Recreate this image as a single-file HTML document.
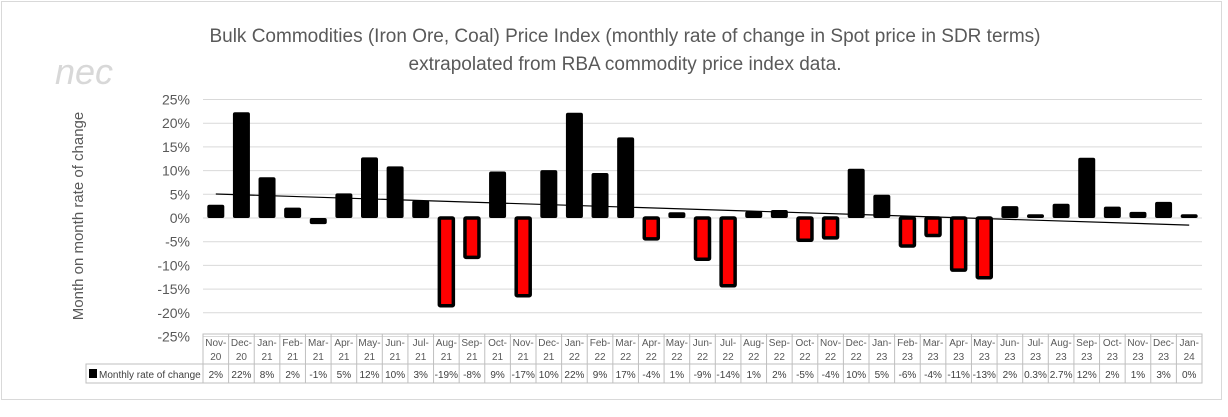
<!DOCTYPE html>
<html><head><meta charset="utf-8"><style>
body{margin:0;background:#fff;font-family:"Liberation Sans",sans-serif}
svg text{font-family:"Liberation Sans",sans-serif}
</style></head><body>
<svg id="c" width="1228" height="412" xmlns="http://www.w3.org/2000/svg">
<rect x="1.5" y="1.5" width="1220" height="398" fill="#fff" stroke="#d9d9d9"/>
<text x="55" y="84" font-size="36" fill="#d8d8d8" font-style="italic">nec</text>
<text x="625" y="42" font-size="19" fill="#595959" text-anchor="middle">Bulk Commodities (Iron Ore, Coal) Price Index (monthly rate of change in Spot price in SDR terms)</text>
<text x="625" y="70" font-size="19" fill="#595959" text-anchor="middle">extrapolated from RBA commodity price index data.</text>
<text transform="translate(83,216) rotate(-90)" font-size="15" fill="#595959" text-anchor="middle">Month on month rate of change</text>
<g id="grid"></g><g id="bars"></g><g id="trend"></g><g id="table"></g>
</svg>
<script>
const categories=["Nov-20","Dec-20","Jan-21","Feb-21","Mar-21","Apr-21","May-21","Jun-21","Jul-21","Aug-21","Sep-21","Oct-21","Nov-21","Dec-21","Jan-22","Feb-22","Mar-22","Apr-22","May-22","Jun-22","Jul-22","Aug-22","Sep-22","Oct-22","Nov-22","Dec-22","Jan-23","Feb-23","Mar-23","Apr-23","May-23","Jun-23","Jul-23","Aug-23","Sep-23","Oct-23","Nov-23","Dec-23","Jan-24"];
const values=[2.8,22.3,8.6,2.2,-1.3,5.2,12.8,10.9,3.7,-18.5,-8.3,9.8,-16.4,10.1,22.2,9.5,17,-4.4,1.2,-8.7,-14.3,1.4,1.7,-4.7,-4.2,10.4,4.9,-5.9,-3.7,-11,-12.6,2.5,0.8,3,12.7,2.4,1.3,3.4,0.8];
const printed=["2%","22%","8%","2%","-1%","5%","12%","10%","3%","-19%","-8%","9%","-17%","10%","22%","9%","17%","-4%","1%","-9%","-14%","1%","2%","-5%","-4%","10%","5%","-6%","-4%","-11%","-13%","2%","0.3%","2.7%","12%","2%","1%","3%","0%"];
const ticks=[25,20,15,10,5,0,-5,-10,-15,-20,-25];
const NS="http://www.w3.org/2000/svg";
const X0=203,X1=1202,n=categories.length,cw=(X1-X0)/n;
const y=v=>218-v*4.74;
const xc=i=>X0+cw*(i+0.5);
function mk(t,a,p){const e=document.createElementNS(NS,t);for(const k in a)e.setAttribute(k,a[k]);p.appendChild(e);return e;}
const G=document.getElementById('grid'),B=document.getElementById('bars'),T=document.getElementById('trend'),TB=document.getElementById('table');
ticks.forEach(t=>{
 const l=mk('line',{x1:X0,x2:X1,y1:y(t),y2:y(t),stroke:'#d9d9d9','stroke-width':1},G);
 
 
 const tx=mk('text',{x:190,y:y(t)+5,'font-size':14,fill:'#595959','text-anchor':'end'},G);
 tx.textContent=t+'%';
 
 
});
values.forEach((v,i)=>{
 const w=17,top=Math.min(y(v),y(0)),h=Math.abs(y(v)-y(0));
 let r;
 if(v>-3) r=mk('rect',{x:xc(i)-w/2,y:top,width:w,height:h,rx:2,fill:'#000'},B);
 else r=mk('rect',{x:xc(i)-w/2+1.5,y:top,width:w-3,height:h,fill:'#f00',stroke:'#000','stroke-width':3.5,rx:1},B);
 
 
});
let sx=0,sy=0,sxy=0,sxx=0;values.forEach((v,i)=>{sx+=i;sy+=v;sxy+=i*v;sxx+=i*i;});
const m=(n*sxy-sx*sy)/(n*sxx-sx*sx),b=(sy-m*sx)/n;
const tl=mk('line',{x1:xc(0),y1:y(b),x2:xc(n-1),y2:y(b+m*(n-1)),stroke:'#000','stroke-width':1.2},T);


const R0=334,R1=364,R2=383;
const ol=mk('path',{d:`M${X0},${R0}H${X1}V${R2}H86V${R1}H${X0}Z`,fill:'none',stroke:'#bfbfbf'},TB);


mk('line',{x1:X0,x2:X1,y1:R1,y2:R1,stroke:'#bfbfbf'},TB);
for(let i=0;i<=n;i++){mk('line',{x1:X0+cw*i,x2:X0+cw*i,y1:R0,y2:R2,stroke:'#bfbfbf'},TB);}
categories.forEach((c,i)=>{
 const p=c.split('-');
 const t1=mk('text',{x:xc(i),y:R0+12,'font-size':10,fill:'#595959','text-anchor':'middle'},TB);t1.textContent=p[0]+'-';
 
 
 const t2=mk('text',{x:xc(i),y:R0+26,'font-size':10,fill:'#595959','text-anchor':'middle'},TB);t2.textContent=p[1];
 
 
 const t3=mk('text',{x:xc(i),y:R2-5,'font-size':10,fill:'#404040','text-anchor':'middle'},TB);t3.textContent=printed[i];
 
 
});
const lk=mk('rect',{x:89,y:369,width:8,height:9,fill:'#000'},TB);


const lt=mk('text',{x:99,y:378,'font-size':10,fill:'#404040'},TB);lt.textContent='Monthly rate of change';


</script>
</body></html>
